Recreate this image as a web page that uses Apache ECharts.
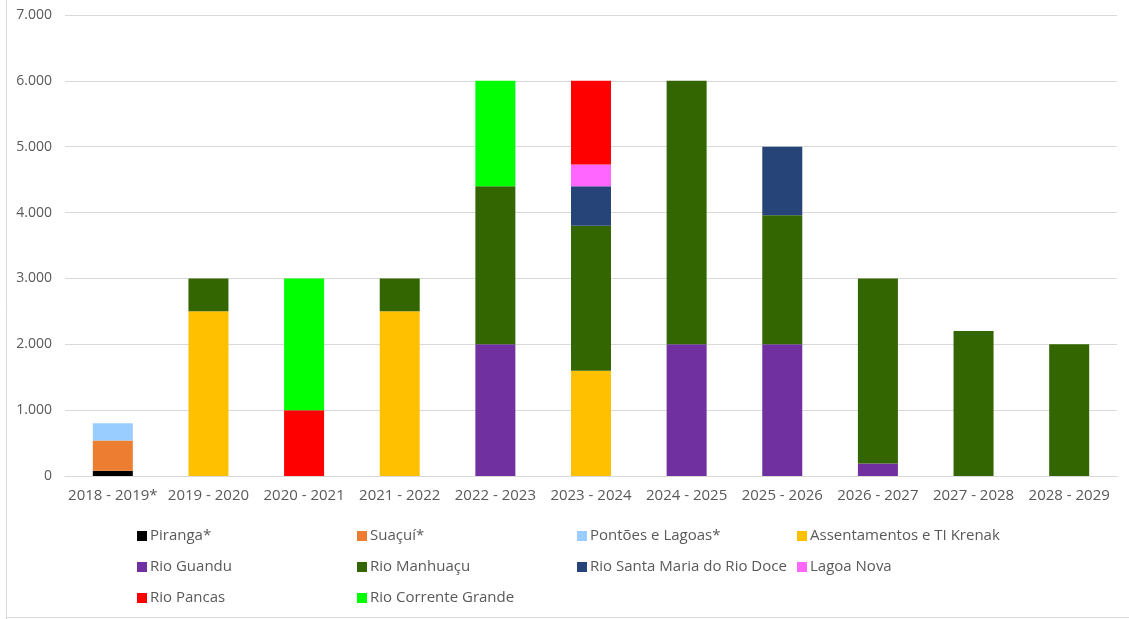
<!DOCTYPE html>
<html><head><meta charset="utf-8">
<script src="https://cdn.jsdelivr.net/npm/echarts@6/dist/echarts.min.js"></script>
<style>html,body{margin:0;padding:0;background:#fff}#c{width:1129px;height:619px}</style>
</head><body><div id="c"></div>
<script>
const categories = ['2018 - 2019*','2019 - 2020','2020 - 2021','2021 - 2022','2022 - 2023','2023 - 2024','2024 - 2025','2025 - 2026','2026 - 2027','2027 - 2028','2028 - 2029'];
const seriesNames = ['Piranga*','Suaçuí*','Pontões e Lagoas*','Assentamentos e TI Krenak','Rio Guandu','Rio Manhuaçu','Rio Santa Maria do Rio Doce','Lagoa Nova','Rio Pancas','Rio Corrente Grande'];
const piranga      = [80,0,0,0,0,0,0,0,0,0,0];
const suacui       = [460,0,0,0,0,0,0,0,0,0,0];
const pontoes      = [260,0,0,0,0,0,0,0,0,0,0];
const assentamentos= [0,2500,0,2500,0,1600,0,0,0,0,0];
const rioGuandu    = [0,0,0,0,2000,0,2000,2000,190,0,0];
const rioManhuacu  = [0,500,0,500,2400,2200,4000,1960,2810,2200,2000];
const rioSantaMaria= [0,0,0,0,0,600,0,1040,0,0,0];
const lagoaNova    = [0,0,0,0,0,330,0,0,0,0,0];
const rioPancas    = [0,0,1000,0,0,1270,0,0,0,0,0];
const rioCorrente  = [0,0,2000,0,1600,0,0,0,0,0,0];
const yTicks = [0,1000,2000,3000,4000,5000,6000,7000];

const allData = [piranga,suacui,pontoes,assentamentos,rioGuandu,rioManhuacu,rioSantaMaria,lagoaNova,rioPancas,rioCorrente];
const colors = ['#000000','#ED7D31','#99CCFF','#FFC000','#7030A0','#336600','#264478','#FF66FF','#FF0000','#00FF00'];

const fontFam = '"Open Sans", "Noto Sans", sans-serif';
const chart = echarts.init(document.getElementById('c'));
const legendCol = (names, left) => ({
  top: 527, left: left, orient: 'vertical', itemGap: 13, padding: 0,
  itemWidth: 10, itemHeight: 10, icon: 'rect',
  textStyle: {color:'#595959', fontSize:15, lineHeight:18, fontFamily: fontFam, padding:[0,0,0,-2]},
  data: names
});
chart.setOption({
  animation: false,
  color: colors,
  grid: {left: 65, right: 12, top: 15, bottom: 143},
  xAxis: {
    type: 'category', data: categories,
    axisLine: {lineStyle: {color: '#d9d9d9'}},
    axisTick: {show: false},
    axisLabel: {color: '#595959', fontSize: 15, fontFamily: fontFam, margin: 12, interval: 0}
  },
  yAxis: {
    type: 'value', min: yTicks[0], max: yTicks[yTicks.length-1], interval: 1000,
    axisLine: {show: false}, axisTick: {show: false},
    splitLine: {lineStyle: {color: '#d9d9d9'}},
    axisLabel: {color: '#595959', fontSize: 14, fontFamily: fontFam, margin: 13,
      formatter: v => v === 0 ? '0' : (v/1000).toFixed(0) + '.000'}
  },
  legend: [
    legendCol([seriesNames[0], seriesNames[4], seriesNames[8]], 137),
    legendCol([seriesNames[1], seriesNames[5], seriesNames[9]], 357),
    legendCol([seriesNames[2], seriesNames[6]], 577),
    legendCol([seriesNames[3], seriesNames[7]], 797)
  ],
  graphic: [
    {type:'line', shape:{x1:6.5,y1:0,x2:6.5,y2:619}, style:{stroke:'#d9d9d9', lineWidth:1}},
    {type:'line', shape:{x1:6,y1:617.5,x2:1129,y2:617.5}, style:{stroke:'#d9d9d9', lineWidth:1}}
  ],
  series: seriesNames.map((n,i) => ({
    name: n, type: 'bar', stack: 'total', barWidth: 40,
    data: allData[i].map(v => v === 0 ? null : v),
    itemStyle: {color: colors[i]}
  }))
});
</script></body></html>
